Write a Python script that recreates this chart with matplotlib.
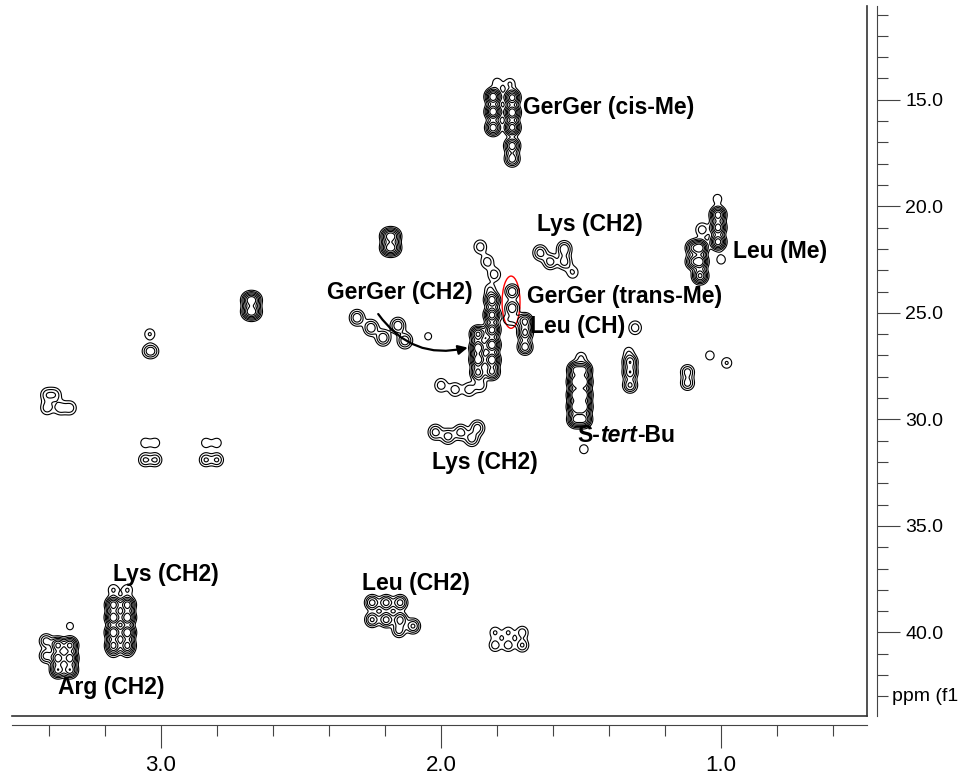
import numpy as np
import matplotlib.pyplot as plt
from matplotlib.patches import Ellipse
from matplotlib.ticker import FixedLocator

# cross peaks: (1H ppm, 13C ppm, relative height)
cis_me = [(1.814, 14.86, 1.0), (1.814, 15.56, 1.0), (1.814, 16.31, 0.7),
          (1.746, 14.9, 0.9), (1.746, 15.6, 1.0), (1.746, 16.3, 0.9),
          (1.746, 17.16, 0.7), (1.746, 17.77, 0.5),
          (1.80, 14.2, 0.12), (1.754, 14.25, 0.15)]
leu_me = [(1.011, 20.4, 0.9), (1.011, 21.0, 0.9), (1.011, 21.67, 0.9),
          (1.075, 21.95, 0.9), (1.075, 22.6, 0.9), (1.075, 23.26, 0.8),
          (1.10, 21.95, 0.5), (1.10, 22.6, 0.5),
          (1.013, 19.65, 0.12), (1.0, 22.5, 0.12)]
gerger_ch2 = [(1.818, 24.4, 0.7), (1.818, 25.1, 0.9), (1.818, 25.8, 0.9),
              (1.818, 26.5, 1.0), (1.818, 27.2, 1.0), (1.818, 27.77, 0.6),
              (1.868, 26.0, 0.8), (1.868, 26.64, 1.0), (1.868, 27.2, 1.0),
              (1.868, 27.8, 0.6), (1.825, 23.9, 0.15)]
trans_me = [(1.746, 24.0, 0.35), (1.746, 24.77, 0.35),
            (1.76, 25.33, 0.12), (1.732, 25.33, 0.12)]
leu_ch = [(1.70, 25.4, 0.6), (1.70, 25.94, 0.6), (1.70, 26.6, 0.5)]
tert_bu = [(1.52, 27.68, 0.8), (1.52, 28.24, 1.0), (1.52, 28.85, 1.0),
           (1.52, 29.41, 1.0), (1.52, 30.0, 0.8),
           (1.49, 27.68, 0.8), (1.49, 28.24, 1.0), (1.49, 28.85, 1.0),
           (1.49, 29.41, 1.0), (1.49, 30.0, 0.8),
           (1.50, 27.1, 0.15), (1.49, 31.4, 0.12)]
small_right = [(1.325, 27.3, 0.5), (1.325, 27.8, 0.5), (1.325, 28.4, 0.4),
               (1.33, 26.83, 0.12), (1.12, 27.77, 0.3), (1.12, 28.3, 0.3),
               (1.04, 27.0, 0.12), (0.98, 27.35, 0.15)]
left_peaks = [(2.19, 21.4, 0.6), (2.17, 21.4, 0.6), (2.19, 21.95, 0.6), (2.17, 21.95, 0.6),
              (2.686, 24.4, 0.6), (2.668, 24.4, 0.6), (2.686, 24.95, 0.6), (2.668, 24.95, 0.6),
              (3.04, 26.0, 0.15), (3.045, 26.8, 0.2), (3.03, 26.8, 0.2),
              (3.057, 31.1, 0.12), (3.02, 31.1, 0.12), (3.057, 31.9, 0.25), (3.02, 31.9, 0.25),
              (2.84, 31.1, 0.12), (2.80, 31.1, 0.12), (2.84, 31.9, 0.25), (2.80, 31.9, 0.25),
              (2.046, 26.1, 0.1)]
lys_ch2_c = [(3.17, 38.7, 0.9), (3.17, 39.3, 1.0), (3.17, 40.0, 1.0), (3.17, 40.6, 0.8),
             (3.12, 38.7, 0.9), (3.12, 39.3, 1.0), (3.12, 40.0, 1.0), (3.12, 40.6, 0.8),
             (3.17, 38.0, 0.15), (3.12, 38.0, 0.15), (3.17, 40.9, 0.15), (3.12, 40.9, 0.15)]
arg_ch2 = [(3.368, 40.6, 0.8), (3.368, 41.2, 0.9), (3.368, 41.76, 0.7),
           (3.325, 40.6, 0.8), (3.325, 41.2, 0.9), (3.325, 41.76, 0.7),
           (3.41, 40.4, 0.3), (3.41, 41.1, 0.3), (3.325, 39.7, 0.1)]
leu_ch2_c = [(2.246, 38.6, 0.45), (2.196, 38.6, 0.45), (2.146, 38.6, 0.45),
             (2.246, 39.4, 0.4), (2.196, 39.4, 0.45), (2.146, 39.4, 0.45),
             (2.1, 39.7, 0.4), (2.15, 39.9, 0.3),
             (1.807, 40.0, 0.15), (1.76, 40.0, 0.15), (1.71, 40.0, 0.2),
             (1.807, 40.6, 0.2), (1.76, 40.6, 0.2), (1.71, 40.6, 0.25)]
# weaker multiplets
broad = [(1.646, 22.18, 0.3), (1.61, 22.6, 0.3), (1.56, 22.0, 0.35), (1.56, 22.6, 0.3),
         (1.53, 23.1, 0.15), (1.068, 21.1, 0.2),
         (1.86, 21.9, 0.2), (1.835, 22.6, 0.2), (1.81, 23.2, 0.2),
         (2.30, 25.23, 0.35), (2.25, 25.7, 0.35), (2.207, 26.17, 0.35),
         (2.154, 25.6, 0.35), (2.129, 26.3, 0.35),
         (1.307, 25.7, 0.2),
         (3.407, 28.85, 0.2), (3.379, 28.85, 0.2), (3.36, 29.46, 0.2),
         (3.407, 29.46, 0.2), (3.325, 29.46, 0.2),
         (2.0, 28.4, 0.2), (1.95, 28.6, 0.2), (1.90, 28.6, 0.2), (1.86, 28.4, 0.2),
         (2.02, 30.6, 0.3), (1.975, 30.8, 0.3), (1.93, 30.6, 0.3),
         (1.89, 30.9, 0.3), (1.87, 30.4, 0.3)]

labels = [("GerGer (cis-Me)", 1.707, 15.38), ("Lys (CH2)", 1.657, 20.87),
          ("Leu (Me)", 0.957, 22.14), ("GerGer (trans-Me)", 1.693, 24.25),
          ("Leu (CH)", 1.682, 25.66), ("Lys (CH2)", 2.032, 32.0),
          ("Leu (CH2)", 2.282, 37.68), ("Lys (CH2)", 3.171, 37.3),
          ("Arg (CH2)", 3.368, 42.6)]

sharp = (cis_me + leu_me + gerger_ch2 + trans_me + leu_ch + tert_bu + small_right
         + left_peaks + lys_ch2_c + arg_ch2 + leu_ch2_c)

xg = np.linspace(0.45, 3.56, 1600)
yg = np.linspace(10.0, 44.2, 1200)
Z = np.zeros((yg.size, xg.size))
for group, sx, sy in [(sharp, 0.0145, 0.2), (broad, 0.0155, 0.22)]:
    for x0, y0, a in group:
        gx = np.exp(-0.5 * ((xg - x0) / sx) ** 2)
        gy = np.exp(-0.5 * ((yg - y0) / sy) ** 2)
        Z += a * np.outer(gy, gx)

fig = plt.figure(figsize=(9.67, 7.78), dpi=100)
ax = fig.add_axes([12 / 967, 1 - 716 / 778, 855 / 967, 710 / 778])

ax.contour(xg, yg, Z, levels=[0.07, 0.14, 0.23, 0.36, 0.52, 0.72],
           colors="black", linewidths=0.8)

ax.set_xlim(3.532, 0.479)
ax.set_ylim(43.92, 10.6)

for s in ["left", "top"]:
    ax.spines[s].set_visible(False)
ax.spines["bottom"].set_position(("outward", 6.5))
ax.spines["right"].set_position(("outward", 7.2))
ax.spines["bottom"].set_color("#444444")
ax.spines["right"].set_color("#444444")
# inner frame
ax.plot([0, 1], [0, 0], transform=ax.transAxes, color="#333333", lw=1.2, clip_on=False)
ax.plot([1, 1], [0, 1], transform=ax.transAxes, color="#333333", lw=1.2, clip_on=False)

ax.yaxis.tick_right()
ax.xaxis.set_major_locator(FixedLocator([3.0, 2.0, 1.0]))
ax.xaxis.set_minor_locator(FixedLocator(np.arange(0.6, 3.45, 0.2)))
ax.yaxis.set_major_locator(FixedLocator([15, 20, 25, 30, 35, 40]))
ax.yaxis.set_minor_locator(FixedLocator(np.arange(11, 44, 1)))
ax.set_xticklabels(["3.0", "2.0", "1.0"], family="Liberation Sans", fontsize=16)
ax.set_yticklabels(["15.0", "20.0", "25.0", "30.0", "35.0", "40.0"],
                   family="Liberation Sans", fontsize=14)
ax.tick_params(axis="both", which="major", length=16.5, width=0.8, color="#444444")
ax.tick_params(axis="both", which="minor", length=8, width=0.8, color="#444444")
ax.tick_params(axis="x", pad=5)
ax.tick_params(axis="y", pad=4)
ax.annotate("ppm (f1", xy=(1, 43), xycoords=("axes fraction", "data"),
            xytext=(18, 0), textcoords="offset points", va="center", ha="left",
            family="Liberation Sans", fontsize=14, annotation_clip=False)

bold = dict(family="Liberation Sans", fontweight="bold", fontsize=16.5, va="center", ha="left")
for txt, lx, ly in labels:
    ax.text(lx, ly, txt, **bold)

ax.text(1.889, 24.06, "GerGer (CH2)", **{**bold, "ha": "right"})
t1 = ax.text(1.514, 30.77, "S-", **bold)
t2 = ax.annotate("tert", xy=(1, 0), xycoords=t1, va="bottom", ha="left",
                 family="Liberation Sans", fontweight="bold", fontstyle="italic", fontsize=16.5)
ax.annotate("-Bu", xy=(1, 0), xycoords=t2, va="bottom", ha="left",
            family="Liberation Sans", fontweight="bold", fontsize=16.5)

ax.annotate("", xy=(1.895, 26.6), xytext=(2.23, 24.95),
            arrowprops=dict(arrowstyle="-|>", color="black", lw=1.6,
                            connectionstyle="arc3,rad=0.35", mutation_scale=14))

ax.add_patch(Ellipse((1.75, 24.5), 0.064, 2.45, fill=False, edgecolor="red", lw=1.0))

fig.savefig("out.png", dpi=100)
